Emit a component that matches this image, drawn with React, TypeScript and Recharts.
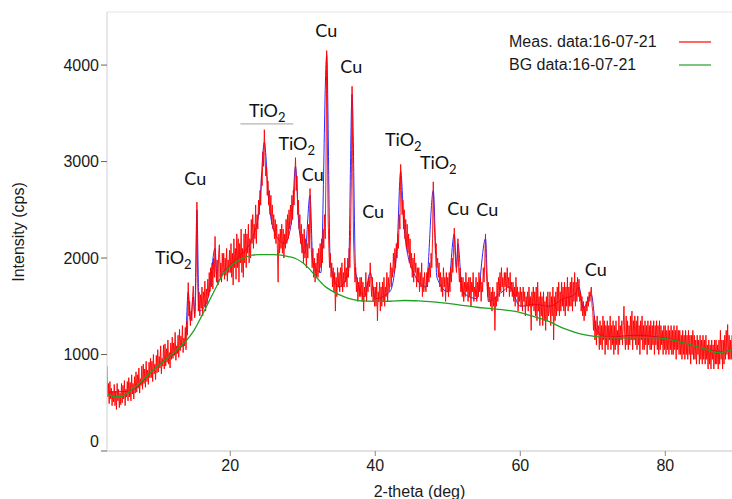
import { LineChart, Line, XAxis, YAxis, ReferenceLine, ReferenceDot, Legend } from "recharts";

// scan settings of the measurement (2-theta, deg)
const SCAN_START = 3.0;
const SCAN_STEP = 0.1;
const SCAN_END = 89.2;
const Y_MAX = 4550;

const measuredCps = [
  880, 560, 700, 490, 720, 540, 650, 470, 620, 510, // 3
  690, 470, 620, 430, 700, 520, 640, 450, 600, 480, // 4
  700, 500, 680, 540, 730, 470, 640, 560, 720, 520, // 5
  760, 560, 710, 520, 790, 590, 700, 540, 770, 600, // 6
  820, 610, 790, 650, 860, 600, 750, 680, 880, 640, // 7
  900, 700, 850, 660, 930, 720, 840, 690, 920, 760, // 8
  960, 760, 930, 720, 1000, 800, 900, 740, 990, 810, // 9
  1050, 820, 980, 860, 1090, 800, 960, 880, 1100, 850, // 10
  1110, 880, 1060, 920, 1150, 900, 1020, 860, 1120, 950, // 11
  1180, 960, 1120, 990, 1230, 940, 1090, 1010, 1200, 970, // 12
  1260, 1040, 1190, 1080, 1300, 1020, 1170, 1090, 1280, 1050, // 13
  1350, 1200, 1745, 1400, 1550, 1300, 1450, 1350, 1600, 1710, // 14
  1500, 1380, 1550, 1900, 2580, 1800, 1450, 1650, 1400, 1620, // 15
  1480, 1700, 1400, 1650, 1500, 1760, 1450, 1680, 1520, 1780, // 16
  1600, 1850, 1650, 1900, 1700, 1950, 1680, 2000, 1800, 2224, // 17
  1900, 1750, 1980, 1720, 2050, 2138, 1800, 1950, 1750, 2050, // 18
  1850, 2050, 1780, 2000, 1820, 2100, 1760, 1980, 1850, 2080, // 19
  1850, 2150, 1800, 2050, 1720, 2200, 1900, 2100, 1780, 2250, // 20
  1900, 2200, 1750, 2150, 1950, 2300, 1850, 2100, 1800, 2250, // 21
  1950, 2300, 1900, 2250, 2050, 2350, 1950, 2200, 2000, 2400, // 22
  2150, 2450, 2100, 2350, 2200, 2550, 2150, 2450, 2300, 2600, // 23
  2450, 2700, 2550, 2850, 2750, 3100, 2950, 3330, 3050, 2850, // 24
  2950, 2650, 2800, 2550, 2700, 2450, 2650, 2350, 2550, 2300, // 25
  2450, 2200, 2400, 2150, 2350, 2100, 1750, 2250, 2050, 2300, // 26
  2100, 2350, 2050, 2300, 2000, 2250, 2100, 2400, 2150, 2450, // 27
  2200, 2500, 2300, 2550, 2350, 2650, 2400, 2700, 2550, 2800, // 28
  3040, 2700, 2850, 2450, 2600, 2300, 2450, 2150, 2350, 2050, // 29
  2250, 1950, 2300, 2000, 2200, 1900, 2150, 2000, 2350, 2100, // 30
  2720, 2300, 2050, 1900, 2100, 1800, 2000, 1750, 1950, 1800, // 31
  2050, 1800, 2100, 1850, 2150, 1900, 2200, 1950, 2300, 2100, // 32
  2450, 2200, 2900, 4150, 3200, 2400, 2100, 1900, 2050, 1800, // 33
  1950, 1700, 1900, 1650, 1850, 1450, 1800, 1600, 1900, 1700, // 34
  1850, 1650, 1900, 1700, 1950, 1650, 1850, 1700, 2000, 1750, // 35
  1900, 1700, 2000, 1800, 2100, 1900, 2300, 2800, 3780, 2900, // 36
  2200, 1950, 1750, 1900, 1650, 1800, 1550, 1750, 1600, 1800, // 37
  1600, 1800, 1550, 1750, 1450, 1700, 1600, 1850, 1550, 1750, // 38
  1650, 1800, 1700, 1950, 1750, 1600, 1800, 1550, 1700, 1500, // 39
  1700, 1500, 1750, 1350, 1650, 1550, 1750, 1450, 1700, 1500, // 40
  1750, 1550, 1800, 1500, 1700, 1600, 1850, 1550, 1800, 1650, // 41
  1750, 1950, 1700, 1900, 1800, 2050, 1850, 2100, 1900, 2150, // 42
  2000, 2250, 2100, 2450, 2300, 2970, 2700, 2450, 2600, 2300, // 43
  2500, 2200, 2400, 2100, 2350, 2050, 2250, 1950, 2200, 1900, // 44
  2050, 1800, 2000, 1750, 2050, 1850, 1950, 1700, 1900, 1750, // 45
  1900, 1650, 1850, 1700, 1950, 1600, 1800, 1650, 1850, 1700, // 46
  1650, 1850, 1700, 1900, 1750, 1950, 1800, 2050, 1900, 2200, // 47
  2790, 2400, 2250, 2050, 2150, 1900, 2000, 1800, 1950, 1700, // 48
  1850, 1650, 1800, 1600, 1900, 1700, 1800, 1550, 1850, 1650, // 49
  1800, 1600, 1850, 1650, 1900, 1750, 2000, 1850, 2100, 2310, // 50
  2050, 1950, 1850, 2000, 2200, 1900, 1750, 1900, 1650, 1800, // 51
  1600, 1800, 1550, 1750, 1600, 1850, 1650, 1750, 1550, 1800, // 52
  1600, 1800, 1500, 1750, 1650, 1850, 1550, 1700, 1600, 1800, // 53
  1550, 1750, 1600, 1850, 1650, 1800, 1550, 1750, 1650, 1900, // 54
  1750, 1950, 2250, 1900, 1750, 1600, 1750, 1550, 1700, 1500, // 55
  1650, 1450, 1700, 1500, 1650, 1250, 1600, 1500, 1750, 1550, // 56
  1800, 1600, 1850, 1650, 1900, 1700, 1800, 1600, 1850, 1700, // 57
  1850, 1650, 1900, 1700, 1800, 1600, 1850, 1650, 1750, 1600, // 58
  1750, 1550, 1700, 1500, 1800, 1600, 1700, 1450, 1650, 1550, // 59
  1700, 1500, 1650, 1450, 1700, 1550, 1650, 1400, 1600, 1500, // 60
  1650, 1450, 1700, 1500, 1600, 1250, 1650, 1500, 1700, 1450, // 61
  1650, 1400, 1700, 1350, 1750, 1450, 1600, 1300, 1650, 1400, // 62
  1600, 1300, 1650, 1350, 1550, 1250, 1600, 1350, 1650, 1400, // 63
  1450, 1650, 1300, 1600, 1400, 1700, 1150, 1600, 1350, 1650, // 64
  1400, 1700, 1450, 1750, 1400, 1650, 1450, 1750, 1500, 1700, // 65
  1450, 1750, 1400, 1700, 1500, 1800, 1450, 1700, 1500, 1750, // 66
  1500, 1800, 1450, 1750, 1550, 1850, 1500, 1750, 1550, 1800, // 67
  1600, 1780, 1550, 1650, 1450, 1600, 1400, 1550, 1350, 1500, // 68
  1400, 1550, 1450, 1600, 1500, 1650, 1550, 1650, 1700, 1500, // 69
  1450, 1250, 1400, 1150, 1350, 1100, 1400, 1200, 1300, 1050, // 70
  1350, 1100, 1300, 1050, 1400, 1150, 1350, 1000, 1300, 1100, // 71
  1350, 1050, 1300, 1150, 1400, 1050, 1300, 1100, 1350, 1000, // 72
  1300, 1050, 1350, 1100, 1250, 1000, 1400, 1100, 1300, 1150, // 73
  1350, 1100, 1300, 1500, 1200, 1050, 1400, 1100, 1350, 1050, // 74
  1300, 1100, 1400, 1150, 1450, 1050, 1350, 1150, 1400, 1100, // 75
  1350, 1050, 1400, 1100, 1300, 1000, 1350, 1150, 1400, 1050, // 76
  1300, 1050, 1350, 1100, 1300, 1000, 1350, 1100, 1300, 1050, // 77
  1350, 1050, 1300, 1100, 1350, 1000, 1300, 1100, 1350, 1050, // 78
  1300, 1000, 1350, 1050, 1300, 1100, 1250, 1000, 1300, 1050, // 79
  1300, 1000, 1250, 1050, 1300, 1000, 1250, 1050, 1300, 1000, // 80
  1250, 1000, 1300, 1050, 1250, 950, 1300, 1050, 1250, 1000, // 81
  1250, 1000, 1200, 950, 1250, 1000, 1200, 950, 1250, 1000, // 82
  1200, 950, 1250, 1000, 1200, 900, 1200, 1000, 1250, 950, // 83
  1200, 950, 1150, 900, 1200, 1000, 1150, 900, 1200, 950, // 84
  1150, 900, 1200, 950, 1150, 900, 1200, 950, 1100, 850, // 85
  1150, 900, 1100, 850, 1150, 950, 1100, 850, 1150, 900, // 86
  1150, 900, 1100, 850, 1150, 900, 1250, 950, 1150, 850, // 87
  1150, 900, 1200, 950, 1250, 1000, 1310, 950, 1200, 950, // 88
  1150, 950, 1200, // 89
];

// background curve
const bgAngles = [3, 4, 5, 6, 7, 8, 9, 10, 11, 12, 13, 14, 15, 16, 17, 18, 19, 20, 21, 22, 23, 24, 25, 26, 27, 28, 29, 30, 31, 32, 33, 34, 35, 36, 37, 38, 40, 42, 44, 46, 48, 50, 52, 54, 56, 58, 60, 62, 64, 66, 68, 70, 72, 74, 76, 78, 80, 82, 84, 86, 87, 88, 89.2];
const bgCps = [600, 560, 565, 610, 670, 740, 810, 880, 940, 1005, 1075, 1150, 1250, 1390, 1540, 1690, 1830, 1914, 1970, 2005, 2030, 2035, 2035, 2035, 2030, 2015, 1995, 1950, 1880, 1790, 1710, 1660, 1620, 1590, 1570, 1555, 1550, 1552, 1560, 1555, 1545, 1530, 1510, 1490, 1475, 1460, 1435, 1390, 1340, 1270, 1220, 1190, 1175, 1172, 1175, 1175, 1165, 1130, 1090, 1045, 1022, 1025, 1055];

// fitted profile (drawn thin, under the measured data)
const fitAngles = [3, 6, 10, 13.8, 14.2, 14.5, 14.9, 15.1, 15.4, 15.7, 17, 17.9, 18.2, 19, 21, 23, 24, 24.7, 25.3, 26.2, 27.5, 28.5, 29, 29.5, 30.3, 31, 31.4, 32.5, 33.3, 33.8, 35, 36.3, 36.8, 37.3, 38.5, 39.3, 40, 42, 43, 43.5, 44, 45, 47, 48, 48.5, 50, 50.9, 51.2, 51.4, 52, 54, 55.2, 55.6, 57.5, 58.5, 60, 62, 64, 66, 67.5, 68.1, 68.7, 69.8, 70.5, 72, 76, 80, 88, 89.2];
const fitCps = [610, 620, 890, 1140, 1650, 1350, 1600, 1400, 2500, 1450, 1600, 2100, 1750, 1850, 2000, 2200, 2500, 3200, 2600, 2250, 2150, 2400, 2950, 2300, 2050, 2650, 1950, 1850, 4100, 1950, 1700, 1850, 3700, 1850, 1600, 1850, 1580, 1650, 2100, 2900, 2300, 1900, 1700, 2700, 1800, 1650, 2250, 1900, 2150, 1650, 1580, 2200, 1550, 1650, 1700, 1500, 1520, 1500, 1580, 1620, 1700, 1480, 1620, 1250, 1180, 1200, 1170, 1030, 1060];

const xTicks = [20, 40, 60, 80];
const yTicks = [0, 1000, 2000, 3000, 4000];
const legendOrder = ["Meas. data:16-07-21", "BG data:16-07-21"];

// phase labels: x = 2-theta of label centre, y = intensity at baseline
type Note = { label: string; sub?: string; x: number; y: number };
const notes: Note[] = [
  { label: "Cu", x: 33.24, y: 4290 },
  { label: "Cu", x: 36.69, y: 3917 },
  { label: "TiO", sub: "2", x: 25.1, y: 3457 },
  { label: "TiO", sub: "2", x: 29.17, y: 3121 },
  { label: "Cu", x: 31.38, y: 2800 },
  { label: "Cu", x: 15.17, y: 2759 },
  { label: "TiO", sub: "2", x: 12.14, y: 1942 },
  { label: "Cu", x: 39.7, y: 2417 },
  { label: "TiO", sub: "2", x: 43.86, y: 3162 },
  { label: "TiO", sub: "2", x: 48.69, y: 2924 },
  { label: "Cu", x: 51.45, y: 2448 },
  { label: "Cu", x: 55.45, y: 2438 },
  { label: "Cu", x: 70.41, y: 1818 },
];

const measured = measuredCps.map((cps, i) => ({
  angle: Math.round((SCAN_START + i * SCAN_STEP) * 10) / 10,
  cps,
}));
const background = bgAngles.map((angle, i) => ({ angle, cps: bgCps[i] }));
const fit = fitAngles.map((angle, i) => ({ angle, cps: fitCps[i] }));

const AXIS_FONT = '"Liberation Sans", Arial, sans-serif';
const NOTE_FONT = "Lato, sans-serif";

function YTick(props: any) {
  const { x, y, payload } = props;
  const lift = payload.value === 0 ? -10 : 0;
  return (
    <text x={x} y={y + lift} dy="0.35em" textAnchor="end" fontFamily={AXIS_FONT} fontSize={16} fill="#1a1a1a">
      {payload.value}
    </text>
  );
}

function XTick(props: any) {
  const { x, y, payload } = props;
  return (
    <text x={x} y={y} dy="0.8em" textAnchor="middle" fontFamily={AXIS_FONT} fontSize={16} fill="#1a1a1a">
      {payload.value}
    </text>
  );
}

function LegendBox({ payload }: any) {
  const rows = (payload || [])
    .filter((p: any) => legendOrder.includes(p.value))
    .sort((a: any, b: any) => legendOrder.indexOf(a.value) - legendOrder.indexOf(b.value));
  return (
    <div style={{ fontFamily: AXIS_FONT, fontSize: 16, color: "#1a1a1a" }}>
      {rows.map((p: any) => (
        <div key={p.value} style={{ display: "flex", alignItems: "center", height: 23 }}>
          <span style={{ width: 170 }}>{p.value}</span>
          <svg width={32} height={4}>
            <line x1={0} x2={32} y1={2} y2={2} stroke={p.color} strokeWidth={1.2} />
          </svg>
        </div>
      ))}
    </div>
  );
}

export default function App() {
  return (
    <div style={{ position: "fixed", left: 0, top: 0, width: 732, height: 499, background: "#fff" }}>
      <LineChart width={732} height={499} margin={{ top: 12, right: 0, bottom: 0, left: 0 }}>
        <XAxis
          type="number"
          dataKey="angle"
          domain={[SCAN_START, SCAN_END]}
          allowDataOverflow
          ticks={xTicks}
          height={48}
          stroke="#c4c4c4"
          tickSize={5}
          tickLine={{ stroke: "#888" }}
          tick={<XTick />}
          label={{ value: "2-theta (deg)", position: "insideBottom", offset: 2, fontFamily: AXIS_FONT, fontSize: 16, fill: "#1a1a1a" }}
        />
        <YAxis
          type="number"
          dataKey="cps"
          domain={[0, Y_MAX]}
          allowDataOverflow
          ticks={yTicks}
          width={107}
          stroke="#d0d0d0"
          tickSize={6}
          tickLine={{ stroke: "#666" }}
          tick={<YTick />}
          label={{
            content: () => (
              <text transform="translate(18,232) rotate(-90)" textAnchor="middle" dominantBaseline="central" fontFamily={AXIS_FONT} fontSize={16} fill="#1a1a1a">
                Intensity (cps)
              </text>
            ),
          }}
        />
        <ReferenceLine y={Y_MAX} stroke="#e4e4e4" ifOverflow="visible" />
        <ReferenceLine segment={[{ x: 21.4, y: 3390 }, { x: 28.7, y: 3390 }]} stroke="#a0a0a0" ifOverflow="visible" />
        <Line data={fit} dataKey="cps" name="fit" legendType="none" type="monotone" stroke="#2a2aff" strokeWidth={1} dot={false} isAnimationActive={false} />
        <Line data={measured} dataKey="cps" name="Meas. data:16-07-21" stroke="#ff0000" strokeOpacity={0.9} strokeWidth={1} dot={false} isAnimationActive={false} />
        <Line data={background} dataKey="cps" name="BG data:16-07-21" stroke="#22a022" strokeWidth={1.3} dot={false} type="monotone" isAnimationActive={false} />
        {notes.map((n, i) => (
          <ReferenceDot
            key={i}
            x={n.x}
            y={n.y}
            r={0}
            ifOverflow="visible"
            shape={(p: any) => (
              <text x={p.cx} y={p.cy} textAnchor="middle" fontFamily={NOTE_FONT} fontSize={18} fill="#111">
                {n.label}
                {n.sub ? <tspan dy={5} fontSize={13}>{n.sub}</tspan> : null}
              </text>
            )}
          />
        ))}
        <Legend
          layout="horizontal"
          verticalAlign="middle"
          align="center"
          wrapperStyle={{ top: 30, left: 509, width: 210, height: 50 }}
          content={<LegendBox />}
        />
      </LineChart>
    </div>
  );
}
